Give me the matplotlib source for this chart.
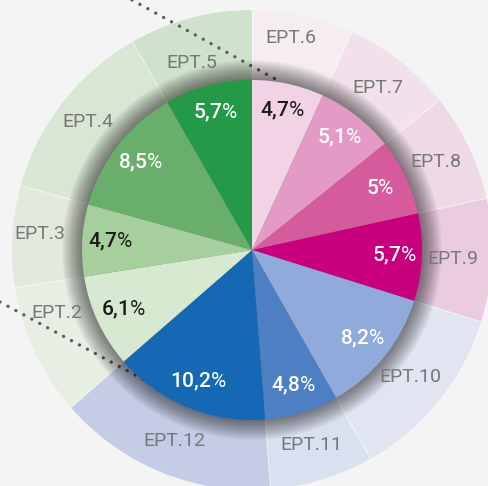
import numpy as np
import matplotlib.pyplot as plt
from matplotlib import font_manager

# Data (share of each EPT, clockwise from 12 o'clock)
labels = ['EPT.6', 'EPT.7', 'EPT.8', 'EPT.9', 'EPT.10', 'EPT.11',
          'EPT.12', 'EPT.2', 'EPT.3', 'EPT.4', 'EPT.5']
shares = [4.7, 5.1, 5.0, 5.7, 8.2, 4.8, 10.2, 6.1, 4.7, 8.5, 5.7]
pct_text = ['4,7', '5,1', '5', '5,7', '8,2', '4,8', '10,2', '6,1', '4,7', '8,5', '5,7']

inner_colors = ['#f2d2e5', '#e39bc6', '#d65b9d', '#c8007e', '#8faadb', '#4f7fc3',
                '#1568b3', '#d7e9d0', '#a7cf9e', '#6aae6c', '#249a49']
outer_colors = ['#f5edf2', '#f2e1eb', '#efd9e6', '#eacbdf', '#e0e5f1', '#d9e0ef',
                '#c5cde6', '#e7eee4', '#e1eadd', '#d8e6d3', '#cfe2cb']
pct_colors = ['#1a1a1a', 'white', 'white', 'white', 'white', 'white',
              'white', '#1a1a1a', '#1a1a1a', 'white', 'white']

# label placement tweaks (radius in px, angle shift in degrees)
label_r = [215, 205, 204, 201, 203, 204, 206, 205, 213, 208, 197]
label_shift = [2, 0, 0, 0, 0, 0, 0, -7, -1, 0, 3]

names = {f.name for f in font_manager.fontManager.ttflist}
narrow = 'Liberation Sans Narrow' if 'Liberation Sans Narrow' in names else 'Roboto'

plt.rcParams['mathtext.fontset'] = 'custom'
plt.rcParams['mathtext.bf'] = 'Roboto:medium'
plt.rcParams['mathtext.rm'] = 'Roboto'

W, H = 489, 486
cx, cy = 252, 236
r_in, r_out = 170, 240
bg = '#f4f4f4'

fig = plt.figure(figsize=(W / 100, H / 100), dpi=100, facecolor=bg)
ax = fig.add_axes([0, 0, 1, 1])
ax.set_facecolor(bg)

# outer ring
outer, _ = ax.pie(shares, radius=r_out, center=(cx, cy), startangle=90,
                  counterclock=False, colors=outer_colors,
                  wedgeprops=dict(width=r_out - r_in + 5, linewidth=0))
for w in outer:
    a = np.radians(w.theta1)
    ax.plot([cx + r_in * np.cos(a), cx + r_out * np.cos(a)],
            [cy + r_in * np.sin(a), cy + r_out * np.sin(a)],
            color='white', alpha=0.55, lw=0.8, zorder=2)

# dotted guide lines
guide1 = ([132, 277], [H - 0, H - 80])
guide2 = ([0, 187], [H - 302, H - 403])
for gx, gy in (guide1, guide2):
    ax.plot(gx, gy, color='#5a5a5a', lw=2.4, ls=(0, (0.01, 2.7)),
            dash_capstyle='round', zorder=3)

# soft shadow around inner pie
for k in range(20):
    rr = r_in + 20 - k
    ax.add_patch(plt.Circle((cx, cy), rr, color='black', alpha=0.028, lw=0, zorder=4))

# inner pie
wedges, _ = ax.pie(shares, radius=r_in, center=(cx, cy), startangle=90,
                   counterclock=False, colors=inner_colors,
                   wedgeprops=dict(linewidth=0))
for w in wedges:
    w.set_zorder(5)

for i, w in enumerate(wedges):
    mid = np.radians((w.theta1 + w.theta2) / 2)
    x = cx + 142 * np.cos(mid)
    y = cy + 142 * np.sin(mid)
    ax.text(x, y, r'$\mathbf{' + pct_text[i].replace(',', '{,}') + '}$%',
            color=pct_colors[i], fontsize=15, family='Roboto',
            ha='center', va='center', zorder=6)
    mid2 = mid + np.radians(label_shift[i])
    x2 = cx + label_r[i] * np.cos(mid2)
    y2 = cy + label_r[i] * np.sin(mid2)
    ax.text(x2, y2, labels[i], color='#777777', fontsize=14, family=narrow,
            ha='center', va='center', zorder=6)

ax.set_xlim(0, W)
ax.set_ylim(0, H)
ax.set_aspect('equal')
ax.axis('off')

fig.savefig('out.png', dpi=100, facecolor=bg)
